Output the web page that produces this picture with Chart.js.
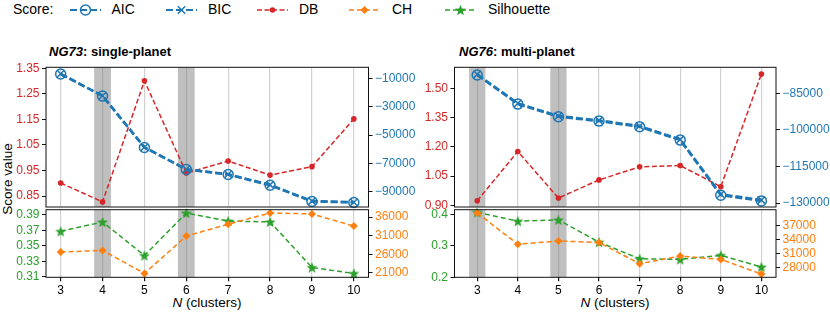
<!DOCTYPE html>
<html>
<head>
<meta charset="utf-8">
<script src="https://cdn.jsdelivr.net/npm/chart.js@4.4.1/dist/chart.umd.min.js"></script>
<style>
  body { margin: 0; background: #fff; width: 830px; height: 312px; position: relative; overflow: hidden;
         font-family: "Liberation Sans", Arial, sans-serif; color: #000; }
  canvas { position: absolute; }
  .txt { position: absolute; white-space: nowrap; }
  .ptitle { font-size: 13px; font-weight: bold; line-height: 15px; }
  .xlab { font-size: 13.5px; line-height: 16px; transform: translateX(-50%); }
  .ylab { font-size: 13.5px; line-height: 16px; transform: translate(-50%, -50%) rotate(-90deg); }
  .leg { font-size: 14px; line-height: 16px; }
  svg { position: absolute; }
</style>
</head>
<body>
<div class="txt leg" style="left:13px;top:1px">Score:</div>

<div class="txt ptitle" style="left:49px;top:44px"><i>NG73</i>: single-planet</div>
<div class="txt ptitle" style="left:459px;top:44px"><i>NG76</i>: multi-planet</div>
<div class="txt ylab" style="left:8px;top:179px">Score value</div>
<div class="txt xlab" style="left:207px;top:295px"><i>N</i> (clusters)</div>
<div class="txt xlab" style="left:615px;top:295px"><i>N</i> (clusters)</div>

<canvas id="topL" width="420" height="170" style="left:0;top:50px"></canvas>
<canvas id="topR" width="430" height="170" style="left:400px;top:50px"></canvas>
<canvas id="botL" width="420" height="112" style="left:0;top:200px"></canvas>
<canvas id="botR" width="430" height="112" style="left:400px;top:200px"></canvas>

<script>
// cluster counts on the x axis
var nClusters = [3, 4, 5, 6, 7, 8, 9, 10];

// NG73: single-planet
var aic73 = [-6970, -22490, -58680, -74200, -77730, -85280, -96690, -97400];
var bic73 = [-6800, -22300, -58500, -74000, -77500, -85000, -96400, -97200];
var db73  = [0.901, 0.827, 1.301, 0.940, 0.987, 0.932, 0.965, 1.152];
var ch73  = [26600, 27040, 20840, 30900, 34100, 37120, 36860, 33580];
var sil73 = [0.3688, 0.3809, 0.3375, 0.3925, 0.3821, 0.3810, 0.3220, 0.3143];
var best73 = [4, 6];

// NG76: multi-planet
var aic76 = [-77480, -89400, -94620, -96380, -98730, -104190, -126800, -129140];
var bic76 = [-77200, -89100, -94300, -96100, -98400, -103900, -126400, -128800];
var db76  = [0.923, 1.176, 0.937, 1.030, 1.097, 1.104, 0.995, 1.573];
var ch76  = [39610, 32960, 33670, 33320, 28830, 30440, 29740, 26630];
var sil76 = [0.407, 0.379, 0.383, 0.312, 0.259, 0.257, 0.270, 0.233];
var best76 = [3, 5];

// tick labels
var dbTicks73  = [0.85, 0.95, 1.05, 1.15, 1.25, 1.35];
var aicTicks73 = [-90000, -70000, -50000, -30000, -10000];
var silTicks73 = [0.31, 0.33, 0.35, 0.37, 0.39];
var chTicks73  = [21000, 26000, 31000, 36000];
var dbTicks76  = [0.90, 1.05, 1.20, 1.35, 1.50];
var aicTicks76 = [-130000, -115000, -100000, -85000];
var silTicks76 = [0.2, 0.3, 0.4];
var chTicks76  = [28000, 31000, 34000, 37000];

var blue = '#1f77b4', orange = '#ff7f0e', green = '#2ca02c', red = '#d62728';

Chart.defaults.font.family = '"Liberation Sans", Arial, sans-serif';
Chart.defaults.font.size = 12;
Chart.defaults.color = '#000';

function starImage(color, r) {
  var c = document.createElement('canvas');
  var s = Math.ceil(r * 2) + 2;
  c.width = s; c.height = s;
  var ctx = c.getContext('2d');
  ctx.beginPath();
  for (var i = 0; i < 10; i++) {
    var rr = i % 2 ? r * 0.42 : r;
    var a = -Math.PI / 2 + i * Math.PI / 5;
    ctx.lineTo(s / 2 + rr * Math.cos(a), s / 2 + 0.5 + rr * Math.sin(a));
  }
  ctx.closePath();
  ctx.fillStyle = color;
  ctx.fill();
  return c;
}
var star = starImage(green, 5.8);

function pts(vals) {
  return nClusters.map(function (n, i) { return { x: n, y: vals[i] }; });
}
function fmt(d) {
  return function (v) { return v.toFixed(d).replace('-', '\u2212'); };
}
function setTicks(list) {
  return function (s) { s.ticks = list.map(function (v) { return { value: v }; }); };
}
function setWidth(w) { return function (s) { s.width = w; }; }

// grey bands around the chosen N, plus a black frame round the plot
function bandsPlugin(best) {
  return {
    id: 'bands',
    beforeDatasetsDraw: function (chart) {
      var a = chart.chartArea, x = chart.scales.x, ctx = chart.ctx;
      ctx.save();
      best.forEach(function (b) {
        var x0 = x.getPixelForValue(b - 0.2), x1 = x.getPixelForValue(b + 0.2);
        ctx.fillStyle = 'rgba(128,128,128,0.5)';
        ctx.fillRect(x0, a.top, x1 - x0, a.bottom - a.top);
      });
      ctx.restore();
    },
    afterDraw: function (chart) {
      var a = chart.chartArea, ctx = chart.ctx;
      ctx.save();
      ctx.strokeStyle = '#111';
      ctx.lineWidth = 1;
      ctx.strokeRect(a.left, a.top, a.right - a.left, a.bottom - a.top);
      ctx.restore();
    }
  };
}

function yAxis(pos, min, max, ticks, dec, color, width) {
  return {
    type: 'linear', position: pos, min: min, max: max,
    afterBuildTicks: setTicks(ticks), afterFit: setWidth(width),
    ticks: { color: color, padding: 2.5, autoSkip: false, callback: fmt(dec) },
    grid: { drawOnChartArea: false, tickLength: 4, tickColor: '#111' },
    border: { display: false }
  };
}

function xAxis(xmin, xmax, showLabels, height) {
  return {
    type: 'linear', min: xmin, max: xmax,
    afterBuildTicks: setTicks(nClusters), afterFit: function (s) { s.height = height; },
    ticks: { display: showLabels, padding: 2, autoSkip: false, maxRotation: 0, callback: fmt(0) },
    grid: { color: 'rgba(0,0,0,0.18)', lineWidth: 1.2, drawTicks: showLabels, tickLength: 4, tickColor: '#111' },
    border: { display: false }
  };
}

var baseOpts = {
  responsive: false, animation: false, events: [],
  plugins: { legend: { display: false }, tooltip: { enabled: false } }
};

function drawTop(id, aic, bic, db, best, cfg) {
  new Chart(document.getElementById(id), {
    type: 'line',
    data: {
      datasets: [
        { label: 'AIC', data: pts(aic), yAxisID: 'yR', borderColor: blue, borderWidth: 2.5, borderDash: [7, 3],
          pointStyle: 'circle', pointRadius: 5, pointBorderWidth: 1.5, pointBorderColor: blue,
          pointBackgroundColor: 'rgba(0,0,0,0)', clip: false },
        { label: 'BIC', data: pts(bic), yAxisID: 'yR', borderColor: blue, borderWidth: 2.5, borderDash: [7, 3],
          pointStyle: 'crossRot', pointRadius: 5, pointBorderWidth: 1.5, pointBorderColor: blue, clip: false },
        { label: 'DB', data: pts(db), yAxisID: 'yL', borderColor: red, borderWidth: 1.5, borderDash: [5, 2.5],
          pointStyle: 'circle', pointRadius: 2.8, pointBorderWidth: 0, pointBackgroundColor: red, clip: false }
      ]
    },
    options: Object.assign({}, baseOpts, {
      layout: { padding: { top: 17.3, bottom: 13, left: 0, right: 0 } },
      scales: {
        x: xAxis(cfg.xmin, cfg.xmax, false, 0),
        yL: yAxis('left', cfg.dbMin, cfg.dbMax, cfg.dbTicks, 2, red, cfg.wl),
        yR: yAxis('right', cfg.aicMin, cfg.aicMax, cfg.aicTicks, 0, blue, cfg.wr)
      }
    }),
    plugins: [bandsPlugin(best)]
  });
}

function drawBottom(id, ch, sil, best, cfg) {
  new Chart(document.getElementById(id), {
    type: 'line',
    data: {
      datasets: [
        { label: 'CH', data: pts(ch), yAxisID: 'yR', borderColor: orange, borderWidth: 1.5, borderDash: [5, 3],
          pointStyle: 'rectRot', pointRadius: 4, pointBorderWidth: 0, pointBackgroundColor: orange, clip: false },
        { label: 'Silhouette', data: pts(sil), yAxisID: 'yL', borderColor: green, borderWidth: 1.5, borderDash: [5, 3],
          pointStyle: star, pointRadius: 6, clip: false }
      ]
    },
    options: Object.assign({}, baseOpts, {
      layout: { padding: { top: 7, bottom: 0, left: 0, right: 0 } },
      scales: {
        x: xAxis(cfg.xmin, cfg.xmax, true, 34.7),
        yL: yAxis('left', cfg.silMin, cfg.silMax, cfg.silTicks, cfg.silDec, green, cfg.wl),
        yR: yAxis('right', cfg.chMin, cfg.chMax, cfg.chTicks, 0, orange, cfg.wr)
      }
    }),
    plugins: [bandsPlugin(best)]
  });
}

var cfg73 = { xmin: 2.65, xmax: 10.35, wl: 46, wr: 51.5,
  dbMin: 0.807, dbMax: 1.354, dbTicks: dbTicks73, aicMin: -100580, aicMax: -2240, aicTicks: aicTicks73,
  silMin: 0.3093, silMax: 0.3968, silTicks: silTicks73, silDec: 2, chMin: 19800, chMax: 38000, chTicks: chTicks73 };
var cfg76 = { xmin: 2.44, xmax: 10.36, wl: 54.5, wr: 54,
  dbMin: 0.891, dbMax: 1.608, dbTicks: dbTicks76, aicMin: -131640, aicMax: -74310, aicTicks: aicTicks76,
  silMin: 0.2, silMax: 0.4155, silTicks: silTicks76, silDec: 1, chMin: 25927, chMax: 40317, chTicks: chTicks76 };

drawTop('topL', aic73, bic73, db73, best73, cfg73);
drawBottom('botL', ch73, sil73, best73, cfg73);
drawTop('topR', aic76, bic76, db76, best76, cfg76);
drawBottom('botR', ch76, sil76, best76, cfg76);

// legend row at the top
var legendItems = [
  { name: 'AIC', color: blue, marker: 'circle', icon: 70, text: 111.5, lw: 2, dash: '7,3' },
  { name: 'BIC', color: blue, marker: 'x', icon: 166, text: 208, lw: 2, dash: '7,3' },
  { name: 'DB', color: red, marker: 'dot', icon: 257, text: 299, lw: 1.5, dash: '5,2.5' },
  { name: 'CH', color: orange, marker: 'diamond', icon: 349, text: 392, lw: 1.5, dash: '5,3' },
  { name: 'Silhouette', color: green, marker: 'star', icon: 445, text: 488, lw: 1.5, dash: '5,3' }
];
var NS = 'http://www.w3.org/2000/svg';
legendItems.forEach(function (it) {
  var svg = document.createElementNS(NS, 'svg');
  svg.setAttribute('width', 32); svg.setAttribute('height', 16);
  svg.style.left = it.icon + 'px'; svg.style.top = '1.5px';
  var ln = document.createElementNS(NS, 'line');
  ln.setAttribute('x1', 0); ln.setAttribute('x2', 31); ln.setAttribute('y1', 8); ln.setAttribute('y2', 8);
  ln.setAttribute('stroke', it.color); ln.setAttribute('stroke-width', it.lw);
  ln.setAttribute('stroke-dasharray', it.dash);
  svg.appendChild(ln);
  var m;
  if (it.marker === 'circle') {
    m = document.createElementNS(NS, 'circle');
    m.setAttribute('cx', 15.5); m.setAttribute('cy', 8); m.setAttribute('r', 5);
    m.setAttribute('fill', 'none'); m.setAttribute('stroke', it.color); m.setAttribute('stroke-width', 1.5);
  } else if (it.marker === 'x') {
    m = document.createElementNS(NS, 'path');
    m.setAttribute('d', 'M11.8 4.3L19.2 11.7M11.8 11.7L19.2 4.3');
    m.setAttribute('stroke', it.color); m.setAttribute('stroke-width', 1.5);
  } else if (it.marker === 'dot') {
    m = document.createElementNS(NS, 'circle');
    m.setAttribute('cx', 15.5); m.setAttribute('cy', 8); m.setAttribute('r', 2.8);
    m.setAttribute('fill', it.color);
  } else if (it.marker === 'diamond') {
    m = document.createElementNS(NS, 'polygon');
    m.setAttribute('points', '15.5,4 19.5,8 15.5,12 11.5,8');
    m.setAttribute('fill', it.color);
  } else {
    m = document.createElementNS(NS, 'polygon');
    var p = [];
    for (var i = 0; i < 10; i++) {
      var rr = i % 2 ? 5.8 * 0.42 : 5.8, a = -Math.PI / 2 + i * Math.PI / 5;
      p.push((15.5 + rr * Math.cos(a)).toFixed(2) + ',' + (8.5 + rr * Math.sin(a)).toFixed(2));
    }
    m.setAttribute('points', p.join(' '));
    m.setAttribute('fill', it.color);
  }
  svg.appendChild(m);
  document.body.appendChild(svg);
  var t = document.createElement('div');
  t.className = 'txt leg';
  t.style.left = it.text + 'px'; t.style.top = '1px';
  t.textContent = it.name;
  document.body.appendChild(t);
});
</script>
</body>
</html>
